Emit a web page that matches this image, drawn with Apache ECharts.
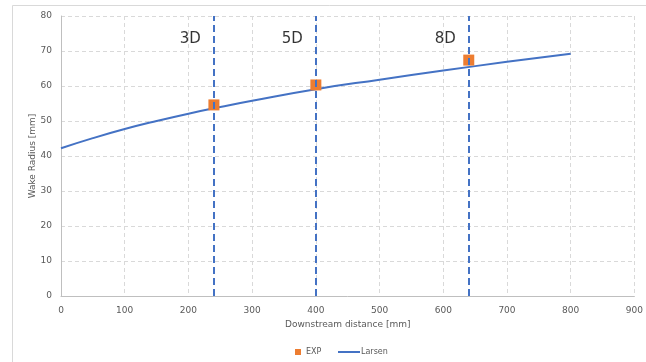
<!DOCTYPE html>
<html>
<head>
<meta charset="utf-8">
<script src="https://cdn.jsdelivr.net/npm/echarts@6/dist/echarts.min.js"></script>
<style>html,body{margin:0;padding:0;background:#fff}#c{width:646px;height:362px}</style>
</head>
<body>
<div id="c"></div>
<script>
// Larsen model curve
const larsenX = [0, 50, 100, 150, 200, 250, 300, 400, 500, 600, 700, 800];
const larsenY = [42.2, 45.1, 47.7, 50.0, 52.1, 54.0, 55.8, 59.1, 61.8, 64.4, 66.9, 69.2];
// Experimental points
const expX = [240, 400, 640];
const expY = [54.6, 60.3, 67.4];
// Downstream positions (diameters)
const dLabels = ['3D', '5D', '8D'];
const dX = [240, 400, 640];
const dLabelY = [73.3, 73.3, 73.3];
// Axis ticks
const xTicks = [0, 100, 200, 300, 400, 500, 600, 700, 800, 900];
const yTicks = [0, 10, 20, 30, 40, 50, 60, 70, 80];

const chart = echarts.init(document.getElementById('c'), null, {renderer: 'canvas'});
const gridLine = {show: true, lineStyle: {color: '#d9d9d9', type: [4, 3], width: 1}};
const tickFont = {color: '#595959', fontSize: 9, fontFamily: 'DejaVu Sans'};

chart.setOption({
  animation: false,
  backgroundColor: '#fff',
  graphic: [{
    type: 'rect', shape: {x: 12.5, y: 5.5, width: 700, height: 400},
    style: {fill: 'none', stroke: '#d9d9d9', lineWidth: 1}, silent: true, z: -10
  }],
  grid: {left: 61, right: 9, top: 16, bottom: 66, containLabel: false},
  xAxis: {
    type: 'value', min: xTicks[0], max: xTicks[xTicks.length - 1], interval: 100,
    name: 'Downstream distance [mm]', nameLocation: 'middle', nameGap: 23,
    nameTextStyle: {color: '#595959', fontSize: 9, fontFamily: 'DejaVu Sans'},
    axisLine: {show: true, lineStyle: {color: '#bfbfbf', width: 1}},
    axisTick: {show: false},
    axisLabel: Object.assign({margin: 10}, tickFont),
    splitLine: gridLine
  },
  yAxis: {
    type: 'value', min: yTicks[0], max: yTicks[yTicks.length - 1], interval: 10,
    name: 'Wake Radius [mm]', nameLocation: 'middle', nameGap: 24, nameMoveOverlap: false,
    nameTextStyle: {color: '#595959', fontSize: 9, fontFamily: 'DejaVu Sans'},
    axisLine: {show: true, lineStyle: {color: '#bfbfbf', width: 1}},
    axisTick: {show: false},
    axisLabel: Object.assign({margin: 9}, tickFont),
    splitLine: gridLine
  },
  legend: [{
    data: ['EXP'], left: 290, top: 343, icon: 'rect', itemWidth: 6, itemHeight: 6, itemGap: 6,
    textStyle: {color: '#595959', fontSize: 8, fontFamily: 'DejaVu Sans'}
  }, {
    data: [{name: 'Larsen', icon: 'rect'}], left: 333, top: 343, itemWidth: 22, itemHeight: 2, itemGap: 2,
    textStyle: {color: '#595959', fontSize: 8, fontFamily: 'DejaVu Sans', padding: [0, 0, 0, -4]}
  }],
  series: [{
    name: 'Larsen', type: 'line', smooth: true, showSymbol: false, symbol: 'none',
    data: larsenX.map((x, i) => [x, larsenY[i]]),
    lineStyle: {color: '#4472C4', width: 2}, itemStyle: {color: '#4472C4'}, z: 3
  }, {
    name: 'dlines', type: 'scatter', symbolSize: 0,
    data: dX.map((x, i) => ({value: [x, dLabelY[i]], label: {formatter: dLabels[i]}})),
    label: {show: true, position: 'left', distance: 13, color: '#000', fontSize: 15, fontFamily: 'DejaVu Sans'},
    markLine: {
      silent: true, symbol: 'none', label: {show: false},
      lineStyle: {color: '#4472C4', type: [7, 4], width: 2},
      data: dX.map(x => ({xAxis: x}))
    },
    z: 2
  }, {
    name: 'EXP', type: 'scatter', symbol: 'rect', symbolSize: 11,
    data: expX.map((x, i) => [x, expY[i]]),
    itemStyle: {color: '#ED7D31', opacity: 1}, z: 4
  }]
});
</script>
</body>
</html>
